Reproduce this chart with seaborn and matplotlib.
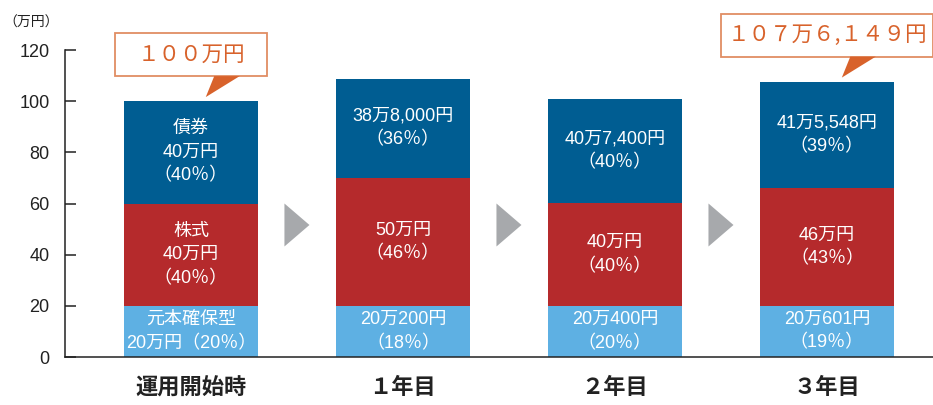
import numpy as np
import matplotlib
matplotlib.use('Agg')
import matplotlib.pyplot as plt
import matplotlib.patches as mpatches
import seaborn as sns

# data (万円)
categories = ['運用開始時', '１年目', '２年目', '３年目']
principal = [20.0, 20.02, 20.04, 20.0601]
stocks = [40.0, 50.0, 40.0, 46.0]
bonds = [40.0, 38.8, 40.74, 41.5548]

principal_labels = ['元本確保型\n20万円（20％）', '20万200円\n（18％）',
                    '20万400円\n（20％）', '20万601円\n（19％）']
stocks_labels = ['株式\n40万円\n（40％）', '50万円\n（46％）',
                 '40万円\n（40％）', '46万円\n（43％）']
bonds_labels = ['債券\n40万円\n（40％）', '38万8,000円\n（36％）',
                '40万7,400円\n（40％）', '41万5,548円\n（39％）']

callout_idx = [0, 3]
callout_texts = ['１００万円', '１０７万６,１４９円']
callout_widths = [0.72, 1.0]

yticks = [0, 20, 40, 60, 80, 100, 120]

# colours
c_principal = '#5eb0e3'
c_stocks = '#b52a2c'
c_bonds = '#005d92'
c_orange = '#d8622b'
c_arrow = '#a7a9ac'

sns.set_style('ticks')
plt.rcParams['font.family'] = ['Noto Sans CJK JP', 'DejaVu Sans']
label_font = ['Liberation Sans', 'Noto Sans CJK JP']

fig = plt.figure(figsize=(9.33, 4.05), dpi=100)
ax = fig.add_axes([65 / 933, 1 - 357 / 405, 1 - 65 / 933, 307 / 405])

principal = np.array(principal)
stocks = np.array(stocks)
bonds = np.array(bonds)
bar_w = 0.632

# stacked bars
sns.barplot(x=categories, y=principal, color=c_principal, saturation=1,
            width=bar_w, edgecolor='none', linewidth=0, ax=ax)
sns.barplot(x=categories, y=stocks, bottom=principal, color=c_stocks, saturation=1,
            width=bar_w, edgecolor='none', linewidth=0, ax=ax)
sns.barplot(x=categories, y=bonds, bottom=principal + stocks, color=c_bonds, saturation=1,
            width=bar_w, edgecolor='none', linewidth=0, ax=ax)

totals = principal + stocks + bonds

# segment labels
for i in range(len(categories)):
    for bot, val, lab in [(0, principal[i], principal_labels[i]),
                          (principal[i], stocks[i], stocks_labels[i]),
                          (principal[i] + stocks[i], bonds[i], bonds_labels[i])]:
        ax.text(i, bot + val / 2, lab, ha='center', va='center', color='white',
                fontsize=13, linespacing=1.5, family=label_font)

# grey arrows between bars
for i in range(len(categories) - 1):
    xc = i + 0.5
    ax.fill([xc - 0.059, xc + 0.059, xc - 0.059], [43.2, 51.6, 60.0],
            color=c_arrow, lw=0, clip_on=False)

# callouts
for k, i in enumerate(callout_idx):
    yc = totals[i] + 18.2
    w = callout_widths[k]
    ax.add_patch(mpatches.Rectangle((i - w / 2, yc - 8.4), w, 16.8, fc='white',
                                    ec='#e08d63', lw=1.3, clip_on=False, zorder=5))
    ax.fill([i + 0.11, i + 0.23, i + 0.07],
            [yc - 8.4, yc - 8.4, totals[i] + 1.6],
            color=c_orange, lw=0, clip_on=False, zorder=6)
    ax.text(i, yc, callout_texts[k], ha='center', va='center', color=c_orange,
            fontsize=15.5, zorder=7)

# axes styling
ax.set_xlim(-0.594, 3.5)
ax.set_ylim(0, 120)
ax.set_yticks(yticks)
ax.set_yticklabels([str(t) for t in yticks], fontsize=13, family='Liberation Sans')
ax.tick_params(axis='y', direction='in', length=8, width=1.1, pad=11, colors='#222222')
ax.tick_params(axis='x', length=0, pad=14)
for t in ax.get_xticklabels():
    t.set_fontsize(16)
    t.set_fontweight('bold')
    t.set_color('#222222')
sns.despine(ax=ax)
ax.spines['left'].set_linewidth(1.1)
ax.spines['bottom'].set_linewidth(1.1)
ax.spines['left'].set_color('#222222')
ax.spines['bottom'].set_color('#222222')
ax.set_xlabel('')
ax.set_ylabel('')

fig.text(0.004, 0.943, '（万円）', fontsize=10, va='center', ha='left', color='#222222')

fig.savefig('out.png', dpi=100)
plt.close(fig)
